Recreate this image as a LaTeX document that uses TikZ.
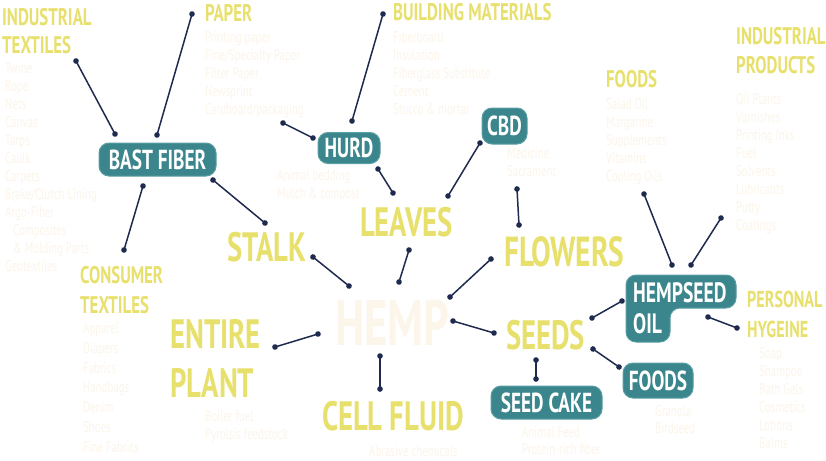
\documentclass[tikz,border=0pt]{standalone}
\usepackage{fontspec}
\usetikzlibrary{arrows.meta}
\newfontfamily\condfont[FakeStretch=0.7]{PT Sans}
\definecolor{hempyellow}{HTML}{E8E06C}
\definecolor{hemppale}{HTML}{FCF5EA}
\definecolor{hempteal}{HTML}{3A868C}
\definecolor{tealedge}{HTML}{5A9FA4}
\definecolor{hempnavy}{HTML}{1E2B4F}

\begin{document}
\begin{tikzpicture}[x=1pt,y=-1pt,
	title/.style={font=\condfont\bfseries\fontsize{24}{29}\selectfont, text=hempyellow, anchor=base west, inner sep=0pt, align=left},
	bigtitle/.style={font=\condfont\bfseries\fontsize{41}{49}\selectfont, text=hempyellow, anchor=base west, inner sep=0pt, align=left},
	itemlist/.style={font=\condfont\fontsize{15.5}{18}\selectfont, text=hemppale, anchor=base west, inner sep=0pt, align=left},
	tealbox/.style={fill=hempteal, draw=tealedge, line width=1pt, rounded corners=10pt, text=white, font=\condfont\bfseries\fontsize{27.5}{27.5}\selectfont, inner sep=0pt},
	link/.style={draw=hempnavy, line width=1.5pt, {Circle[length=5.5pt]}-{Circle[length=5.5pt]}, shorten <=-2.75pt, shorten >=-2.75pt}]
	\useasboundingbox[fill=white] (0,0) rectangle (826,460);

	%% centre
	\node[font=\condfont\bfseries\fontsize{64}{64}\selectfont, text=hemppale, anchor=base west, inner sep=0pt] (hemp) at (335,345) {HEMP};

	%% plant parts
	\node[bigtitle] (stalk) at (227,261) {STALK};
	\node[bigtitle] (leaves) at (360,236) {LEAVES};
	\node[bigtitle, font=\condfont\bfseries\fontsize{42}{49}\selectfont] (flowers) at (504,266) {FLOWERS};
	\node[bigtitle] (seeds) at (506,349) {SEEDS};
	\node[bigtitle] (entire) at (170,397) {ENTIRE\\PLANT}; % base = last line
	\node[bigtitle] (cellfluid) at (322,430) {CELL FLUID};

	%% boxes
	\node[tealbox, minimum width=117pt, minimum height=33pt] (bast) at (157.5,159.5) {BAST FIBER};
	\node[tealbox, minimum width=62pt, minimum height=31pt] (hurd) at (349,148) {HURD};
	\node[tealbox, minimum width=45pt, minimum height=36pt] (cbd) at (504.5,126) {CBD};
	\node[tealbox, minimum width=111pt, minimum height=33pt] (seedcake) at (546.5,402.5) {SEED CAKE};
	\node[tealbox, minimum width=70pt, minimum height=35pt] (foodsbox) at (658,380.5) {FOODS};
	\draw[fill=hempteal, draw=tealedge, line width=1pt, rounded corners=10pt]
		(626,275) -- (736,275) -- (736,308) -- (670,308) -- (670,342) -- (626,342) -- cycle;
	\node[font=\condfont\bfseries\fontsize{28}{31}\selectfont, text=white, anchor=base west, inner sep=0pt, align=left] (hempseed) at (633,333) {HEMPSEED\\OIL};

	%% products (multi-line nodes sit on the baseline of their last line)
	\node[title, font=\condfont\bfseries\fontsize{24}{28}\selectfont] (indtext) at (2,53) {INDUSTRIAL\\TEXTILES};
	\node[itemlist] (indtextlist) at (5,271) {Twine\\Rope\\Nets\\Canvas\\Tarps\\Caulk\\Carpets\\Brake/Clutch Lining\\Argo-Fiber\\\hspace*{8pt}Composites\\\hspace*{8pt}\& Molding Parts\\Geotextiles};
	\node[title] (paper) at (205,22) {PAPER};
	\node[itemlist] (paperlist) at (205,114) {Printing paper\\Fine/Specialty Paper\\Filter Paper\\Newsprint\\Cardboard/packaging};
	\node[title] (building) at (393,21) {BUILDING MATERIALS};
	\node[itemlist] (buildinglist) at (393,114) {Fiberboard\\Insulation\\Fiberglass Substitute\\Cement\\Stucco \& mortar};
	\node[itemlist] (hurdlist) at (277,198) {Animal bedding\\Mulch \& compost};
	\node[itemlist] (cbdlist) at (507,176) {Medicine\\Sacrament};
	\node[title] (foods) at (606,87) {FOODS};
	\node[itemlist] (foodslist) at (606,181) {Salad Oil\\Margarine\\Supplements\\Vitamins\\Cooling Oils};
	\node[title] (indprod) at (736,74) {INDUSTRIAL\\PRODUCTS};
	\node[itemlist] (indprodlist) at (736,230) {Oil Plants\\Varnishes\\Printing Inks\\Fuel\\Solvents\\Lubricants\\Putty\\Coatings};
	\node[title, font=\condfont\bfseries\fontsize{23}{30}\selectfont] (personal) at (747,337) {PERSONAL\\HYGEINE};
	\node[itemlist] (personallist) at (759,448) {Soap\\Shampoo\\Bath Gels\\Cosmetics\\Lotions\\Balms};
	\node[itemlist, font=\condfont\fontsize{15.5}{17}\selectfont] (foodsboxlist) at (655,433) {Granola\\Birdseed};
	\node[itemlist, font=\condfont\fontsize{15.5}{17}\selectfont] (seedcakelist) at (522,454) {Animal Feed\\Protein-rich fiber};
	\node[itemlist] (cellfluidlist) at (369,456) {Abrasive chemicals};
	\node[itemlist] (entirelist) at (205,439) {Boiler fuel\\Pyrolsis feedstock};
	\node[title, font=\condfont\bfseries\fontsize{24}{30}\selectfont] (constext) at (80,313) {CONSUMER\\TEXTILES};
	\node[itemlist, font=\condfont\fontsize{15.5}{19.7}\selectfont] (constextlist) at (83,452) {Apparel\\Diapers\\Fabrics\\Handbags\\Denim\\Shoes\\Fine Fabrics};

	%% connector ends
	\coordinate (indtext-a) at (76,61);   \coordinate (indtext-b) at (115,134);
	\coordinate (paper-a) at (192,14);    \coordinate (paper-b) at (157,135);
	\coordinate (constext-a) at (143,186); \coordinate (constext-b) at (124,250);
	\coordinate (stalk-a) at (213,180);   \coordinate (stalk-b) at (265,223);
	\coordinate (building-a) at (383,14); \coordinate (building-b) at (352,121);
	\coordinate (hurdlist-a) at (283,123); \coordinate (hurdlist-b) at (313,138);
	\coordinate (hurd-a) at (378,169);    \coordinate (hurd-b) at (393,193);
	\coordinate (cbd-a) at (448,196);     \coordinate (cbd-b) at (480,143);
	\coordinate (leaves-a) at (409,250);  \coordinate (leaves-b) at (399,282);
	\coordinate (stalkh-a) at (313,257);  \coordinate (stalkh-b) at (349,286);
	\coordinate (cbdfl-a) at (517,189);   \coordinate (cbdfl-b) at (519,225);
	\coordinate (flowers-a) at (491,259); \coordinate (flowers-b) at (450,297);
	\coordinate (seeds-a) at (453,321);   \coordinate (seeds-b) at (494,333);
	\coordinate (entire-a) at (275,347);  \coordinate (entire-b) at (318,334);
	\coordinate (cell-a) at (380,356);    \coordinate (cell-b) at (380,389);
	\coordinate (oil-a) at (592,318);     \coordinate (oil-b) at (622,301);
	\coordinate (foodsbox-a) at (593,349); \coordinate (foodsbox-b) at (619,367);
	\coordinate (seedcake-a) at (536,360); \coordinate (seedcake-b) at (536,379);
	\coordinate (foods-a) at (644,194);   \coordinate (foods-b) at (672,265);
	\coordinate (indprod-a) at (721,218); \coordinate (indprod-b) at (691,265);
	\coordinate (personal-a) at (708,317); \coordinate (personal-b) at (737,328);

	%% connectors
	\draw[link] (indtext-a) -- (indtext-b);
	\draw[link] (paper-a) -- (paper-b);
	\draw[link] (constext-a) -- (constext-b);
	\draw[link] (stalk-a) -- (stalk-b);
	\draw[link] (building-a) -- (building-b);
	\draw[link] (hurdlist-a) -- (hurdlist-b);
	\draw[link] (hurd-a) -- (hurd-b);
	\draw[link] (cbd-a) -- (cbd-b);
	\draw[link] (leaves-a) -- (leaves-b);
	\draw[link] (stalkh-a) -- (stalkh-b);
	\draw[link] (cbdfl-a) -- (cbdfl-b);
	\draw[link] (flowers-a) -- (flowers-b);
	\draw[link] (seeds-a) -- (seeds-b);
	\draw[link] (entire-a) -- (entire-b);
	\draw[link] (cell-a) -- (cell-b);
	\draw[link] (oil-a) -- (oil-b);
	\draw[link] (foodsbox-a) -- (foodsbox-b);
	\draw[link] (seedcake-a) -- (seedcake-b);
	\draw[link] (foods-a) -- (foods-b);
	\draw[link] (indprod-a) -- (indprod-b);
	\draw[link] (personal-a) -- (personal-b);
\end{tikzpicture}
\end{document}
